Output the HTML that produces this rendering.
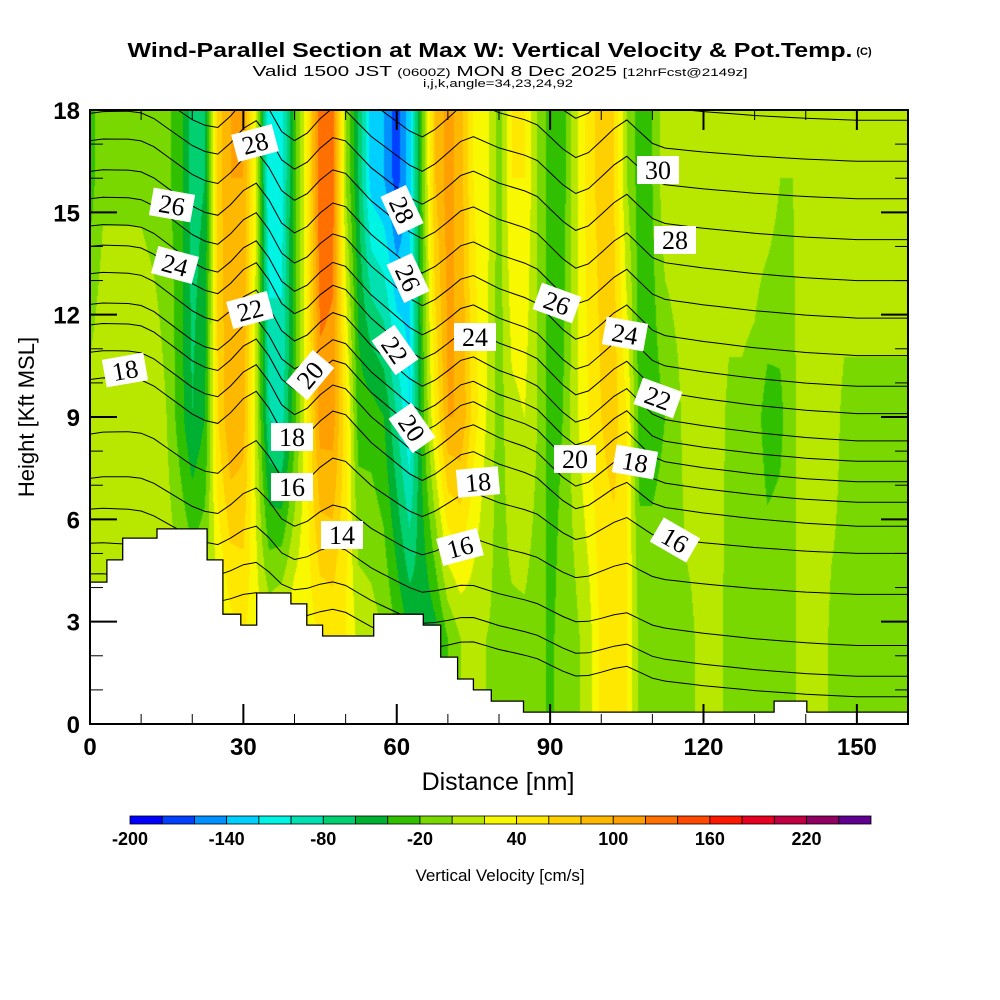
<!DOCTYPE html>
<html><head><meta charset="utf-8"><style>
body{margin:0;background:#fff;width:1000px;height:1000px;overflow:hidden;position:relative;font-family:"Liberation Sans",sans-serif}
#cv{position:absolute;left:90px;top:110px}
#ov{position:absolute;left:0;top:0}
</style></head><body>
<canvas id="cv" width="818" height="614"></canvas>
<svg id="ov" width="1000" height="1000">
<g font-family="Liberation Sans, sans-serif" text-anchor="middle">
<text x="490" y="57" font-size="20" font-weight="bold" textLength="725" lengthAdjust="spacingAndGlyphs">Wind-Parallel Section at Max W: Vertical Velocity &amp; Pot.Temp.</text>
<text x="864" y="55" font-size="11" font-weight="bold">(C)</text>
<text x="500" y="76" font-size="15" textLength="495" lengthAdjust="spacingAndGlyphs">Valid 1500 JST <tspan font-size="11">(0600Z)</tspan> MON 8 Dec 2025 <tspan font-size="11">[12hrFcst@2149z]</tspan></text>
<text x="498" y="87" font-size="11" textLength="150" lengthAdjust="spacingAndGlyphs">i,j,k,angle=34,23,24,92</text>
</g>
<g id="contours"></g>
<g id="terrain"></g>
<g id="labels"></g>
<g id="axes"></g>
<text x="0" y="0" transform="translate(34,417) rotate(-90)" font-size="22" text-anchor="middle">Height [Kft MSL]</text>
<text x="498" y="790" font-size="25" text-anchor="middle">Distance [nm]</text>
<g id="cbar"></g>
<text x="500" y="881" font-size="17" text-anchor="middle">Vertical Velocity [cm/s]</text>
</svg>
<script>
// ---- data ----
const colorBounds=[-200,-180,-160,-140,-120,-100,-80,-60,-40,-20,0,20,40,60,80,100,120,140,160,180,200,220,240,260];
const colorList=["#0000ff","#0040ff","#0090ff","#00d0ff","#00f4e4","#00e0b0","#00d070","#00b030","#30c000","#78d800","#b8e800","#f8f800","#ffe800","#ffd000","#ffb800","#ffa000","#ff7000","#ff4800","#ff1800","#e80020","#c00040","#900060","#600090"];
const cbarTicks=[-200,-140,-80,-20,40,100,160,220];
const colSpacingNm=2.5;
const rowHeights=[2.5,9,16];
const wTop=[-30,-5,-5,-5,-5,-10,-15,-30,-70,-60,70,100,100,20,-120,-110,-30,40,140,130,0,-60,-130,-140,-170,-130,-20,80,110,90,40,30,-10,40,40,0,-30,-30,15,50,70,60,0,-30,-20,15,15,15,15,15,15,15,15,15,0,0,15,15,15,15,15,15,15,15,15];
const wMid=[10,20,20,20,20,15,0,-30,-60,-40,60,100,90,10,-80,-90,-30,40,110,110,50,-30,-30,-40,-80,-120,-30,40,100,100,50,20,-10,15,20,0,-30,-20,15,40,60,70,40,-30,-30,-20,-5,15,15,10,-5,-5,-10,-30,-25,-5,15,15,10,-5,-5,-5,-5,-5,-5];
const wLow=[15,15,15,15,15,15,15,15,10,10,10,30,40,30,20,30,40,30,40,45,40,15,10,0,-20,-40,-60,-50,-20,0,5,0,-5,-5,-5,-10,-25,-10,-5,10,45,45,40,-5,-5,-5,-5,-5,10,5,-5,-5,-5,-5,-5,-5,15,15,-5,-5,-5,-5,-5,-5,-5];
const terrainX=[0,3.3,6.4,13.1,22.9,26,29.5,32.6,39.3,42.4,45.5,55.5,65.2,68.6,71.9,75,78.5,84.8,133.8,140.2,160];
const terrainH=[4.16,4.81,5.45,5.72,4.81,3.22,2.9,3.84,3.52,2.9,2.58,3.22,2.9,1.96,1.32,1.0,0.67,0.35,0.67,0.35,0.35];
const thetaLevels=[13,14,15,16,17,18,19,20,21,22,23,24,25,26,27,28,29,30,31];
const thetaLeftH=[4.4,5.3,6.3,7.2,8.5,10.1,10.9,11.7,12.3,13.2,14.0,14.6,15.4,16.2,17.1,17.9,18.6,19.5,20.5];
const thetaRightH=[0.8,1.4,2.3,3.8,5.0,5.8,6.5,7.1,7.7,8.3,9.1,9.9,10.8,11.9,13.0,14.2,15.4,16.5,17.7];
const slopeWeight=[1,0.95,0.88,0.8,0.72,0.62,0.52,0.42,0.34,0.27,0.2,0.14,0.09,0.05,0.02,0,0];
const zig=[0,0.1,0.15,0.2,0.2,0.1,-0.1,-0.3,-0.5,-0.6,-0.6,-0.2,0.3,0.6,0.2,-0.4,-0.6,-0.3,0.2,0.6,0.6,0.3,0,-0.2,-0.4,-0.6,-0.7,-0.4,0,0.4,0.6,0.5,0.4,0.35,0.3,0.2,-0.1,-0.4,-0.6,-0.4,0,0.4,0.7,0.4,0.1,0,0,0,0,0,0,0,0,0,0,0,0,0,0,0,0,0,0,0,0];
const xTicks=[0,30,60,90,120,150];
const yTicks=[0,3,6,9,12,15,18];
const contourLabels=[["28",255,143,-15],["26",172,205,10],["24",175,265,15],["22",250,310,-15],["18",125,370,-10],["20",310,375,-50],["18",292,437,0],["16",292,487,0],["14",342,535,0],["28",402,210,65],["26",408,278,65],["22",395,350,55],["20",412,428,55],["24",475,337,0],["18",478,482,-5],["16",460,547,-15],["26",557,303,20],["24",625,334,10],["22",658,398,20],["20",575,459,0],["18",635,462,10],["16",675,540,30],["30",658,170,0],["28",675,240,0]];
// ---- axes ----
const X0=90,X1=908,Y0=724,Y1=110;
const xs=v=>X0+v*(X1-X0)/160;
const ys=h=>Y0-h*(Y0-Y1)/18;
const NS="http://www.w3.org/2000/svg";
function mk(tag,at,parent){const e=document.createElementNS(NS,tag);for(const k in at)e.setAttribute(k,at[k]);parent.appendChild(e);return e;}
function rowVal(arr,xn){let c=xn/colSpacingNm;let i=Math.floor(c);if(i<0)i=0;if(i>=arr.length-1)return arr[arr.length-1];const f=c-i;return arr[i]*(1-f)+arr[i+1]*f;}
function field(xn,h){const a=rowVal(wLow,xn),b=rowVal(wMid,xn),c=rowVal(wTop,xn);
 if(h<=rowHeights[0])return a;if(h<=rowHeights[1]){const f=(h-rowHeights[0])/(rowHeights[1]-rowHeights[0]);return a*(1-f)+b*f;}
 if(h<=rowHeights[2]){const f=(h-rowHeights[1])/(rowHeights[2]-rowHeights[1]);return b*(1-f)+c*f;}return c;}
const cv=document.getElementById('cv'),ctx=cv.getContext('2d');
const img=ctx.createImageData(818,614);
const rgb=colorList.map(c=>[parseInt(c.substr(1,2),16),parseInt(c.substr(3,2),16),parseInt(c.substr(5,2),16)]);
for(let py=0;py<614;py++){const h=(614-py-0.5)*18/614;
 for(let px=0;px<818;px++){const xn=(px+0.5)*160/818;const v=field(xn,h);
  let k=Math.floor((v-colorBounds[0])/20);if(k<0)k=0;if(k>22)k=22;const c=rgb[k];const o=(py*818+px)*4;
  img.data[o]=c[0];img.data[o+1]=c[1];img.data[o+2]=c[2];img.data[o+3]=255;}}
ctx.putImageData(img,0,0);
const svg=document.getElementById('ov');
const defs=mk('defs',{},svg);const cp=mk('clipPath',{id:'pc'},defs);mk('rect',{x:X0,y:Y1,width:X1-X0,height:Y0-Y1},cp);
const cg=document.getElementById('contours');cg.setAttribute('clip-path','url(#pc)');
function wAt(xn){const c=xn/10;let i=Math.floor(c);if(i>=slopeWeight.length-1)return slopeWeight[slopeWeight.length-1];const f=c-i;return slopeWeight[i]*(1-f)+slopeWeight[i+1]*f;}
thetaLevels.forEach((L,li)=>{let pts=[];
 for(let i=0;i<zig.length;i++){const xn=i*colSpacingNm;const hb=thetaRightH[li]+(thetaLeftH[li]-thetaRightH[li])*wAt(xn);
  const amp=Math.max(0.4,Math.min(1,(hb-1)/7));const h=hb+zig[i]*amp;pts.push(xs(xn).toFixed(1)+','+ys(h).toFixed(1));}
 const p=mk('polyline',{points:pts.join(' '),fill:'none',stroke:'#000','stroke-width':1},cg);
 
 
});
const tg=document.getElementById('terrain');
let d='M'+xs(0)+','+Y0;
for(let i=0;i<terrainX.length-1;i++){d+=' L'+xs(terrainX[i]).toFixed(1)+','+ys(terrainH[i]).toFixed(1)+' L'+xs(terrainX[i+1]).toFixed(1)+','+ys(terrainH[i]).toFixed(1);}
d+=' L'+X1+','+Y0+' Z';
const tp=mk('path',{d:d,fill:'#fff',stroke:'#000','stroke-width':1.3},tg);


const lg=document.getElementById('labels');
contourLabels.forEach(l=>{const g=mk('g',{transform:`translate(${l[1]},${l[2]}) rotate(${l[3]})`},lg);
 
 
 mk('rect',{x:-21,y:-14,width:42,height:28,fill:'#fff'},g);
 const t=mk('text',{x:0,y:9,'font-size':26,'font-family':'Liberation Serif, serif','text-anchor':'middle'},g);t.textContent=l[0];});
const ag=document.getElementById('axes');
mk('rect',{x:X0,y:Y1,width:X1-X0,height:Y0-Y1,fill:'none',stroke:'#000','stroke-width':2},ag);
for(let v=0;v<=160;v+=10){const maj=v%30===0,len=maj?20:10;
 mk('line',{x1:xs(v),x2:xs(v),y1:Y0,y2:Y0-len,stroke:'#000','stroke-width':maj?2:1},ag);
 mk('line',{x1:xs(v),x2:xs(v),y1:Y1,y2:Y1+len,stroke:'#000','stroke-width':maj?2:1},ag);}
for(let v=0;v<=18;v++){const maj=v%3===0,len=maj?27:13;
 mk('line',{x1:X0,x2:X0+len,y1:ys(v),y2:ys(v),stroke:'#000','stroke-width':maj?2:1},ag);
 mk('line',{x1:X1,x2:X1-len,y1:ys(v),y2:ys(v),stroke:'#000','stroke-width':maj?2:1},ag);}
xTicks.forEach(v=>{const t=mk('text',{x:xs(v),y:755,'font-size':24,'text-anchor':'middle','font-weight':'bold'},ag);t.textContent=v;
 
 });
yTicks.forEach(v=>{const t=mk('text',{x:80,y:ys(v)+9,'font-size':24,'text-anchor':'end','font-weight':'bold'},ag);t.textContent=v;
 
 });
const cb=document.getElementById('cbar');const CB0=130,CB1=871;
const cbx=v=>CB0+(v-colorBounds[0])*(CB1-CB0)/(colorBounds[colorBounds.length-1]-colorBounds[0]);
colorList.forEach((c,i)=>{const r=mk('rect',{x:cbx(colorBounds[i]),y:816,width:cbx(colorBounds[i+1])-cbx(colorBounds[i]),height:8,fill:c,stroke:'#000','stroke-width':0.8},cb);
 
 });
cbarTicks.forEach(v=>{const t=mk('text',{x:cbx(v),y:845,'font-size':18,'text-anchor':'middle','font-weight':'bold'},cb);t.textContent=v;
 
 });
</script>
</body></html>
